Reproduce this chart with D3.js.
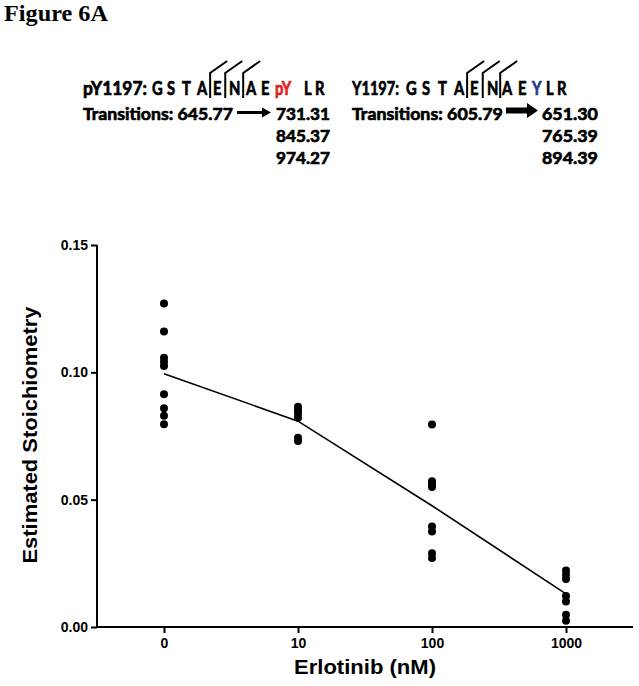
<!DOCTYPE html>
<html><head><meta charset="utf-8">
<script src="https://cdn.jsdelivr.net/npm/d3@7"></script>
<style>body{margin:0;background:#fff}svg{display:block}</style>
</head><body>
<svg id="c" width="639" height="686"></svg>
<script>
// ---- data ----
const categories = ["0", "10", "100", "1000"];
const values0    = [0.127, 0.116, 0.1057, 0.1042, 0.1025, 0.0914, 0.0859, 0.0830, 0.0796];
const values10   = [0.0865, 0.0852, 0.0838, 0.0822, 0.0743, 0.0730];
const values100  = [0.0795, 0.0572, 0.0562, 0.0550, 0.0395, 0.0375, 0.0290, 0.0271];
const values1000 = [0.0222, 0.0205, 0.0188, 0.0122, 0.0100, 0.0048, 0.0025];
const yTicks = [0, 0.05, 0.10, 0.15];
const yTickLabels = ["0.00", "0.05", "0.10", "0.15"];
const xLabel = "Erlotinib (nM)";
const yLabel = "Estimated Stoichiometry";
const title = "Figure 6A";
const pep1Seq = ["G","S","T","A","E","N","A","E","pY","L","R"];
const pep2Seq = ["G","S","T","A","E","N","A","E","Y","L","R"];
const pep1Trans = ["731.31", "845.37", "974.27"];
const pep2Trans = ["651.30", "765.39", "894.39"];

const svg = d3.select("#c");
const groups = [values0, values10, values100, values1000];

// ---- title ----
svg.append("text").attr("x", 4).attr("y", 21)
  .attr("font-family", "Liberation Serif, Times New Roman, serif")
  .style("font-weight", "bold").style("font-size", "24px")
  .attr("textLength", 104).attr("lengthAdjust", "spacingAndGlyphs").text(title);

// ---- peptide annotations ----
const pf = "Lato, 'Open Sans', sans-serif";
function heavy(sel, size, color) {
  return sel.attr("font-family", pf).style("font-weight", "bold").style("font-size", size + "px")
    .attr("fill", color || "#000").attr("stroke", color || "#000").attr("stroke-width", 0.7)
    .attr("stroke-linejoin", "round");
}
// text squeezed horizontally to a target width via a transform
function fitted(g, txt, x0, y0, size, width) {
  const t = heavy(g.append("text").attr("x", 0).attr("y", 0), size).text(txt);
  const w = t.node().getComputedTextLength();
  t.attr("transform", `translate(${x0},${y0}) scale(${width / w},1)`);
  return t;
}
function peptide(cfg) {
  const g = svg.append("g");
  fitted(g, cfg.label, cfg.x0, 95, 18, cfg.labelW);
  const widths = [];
  cfg.seq.forEach((d, i) => {
    const t = heavy(g.append("text").attr("x", 0).attr("y", 0), 18, i === 8 ? cfg.color : "#000").text(d);
    const w = t.node().getComputedTextLength();
    t.attr("transform", `translate(${cfg.lx[i]},95) scale(0.82,1)`);
    widths.push(w * 0.82);
  });
  [3, 4, 5].forEach(i => {
    const bx = (cfg.lx[i] + widths[i] + cfg.lx[i + 1]) / 2;
    g.append("path").attr("d", `M${bx},98 L${bx},73 L${bx + 17},61`)
      .attr("fill", "none").attr("stroke", "#000").attr("stroke-width", 2);
  });
  fitted(g, cfg.trans, cfg.x0, 120, 17.5, cfg.transW);
  cfg.nums.forEach((d, i) => fitted(g, d, cfg.nx, 120 + i * 22, 17.5, cfg.nW));
  const a = cfg.arrow;
  g.append("path").attr("d",
    `M${a.x1},${a.y - a.t / 2} L${a.xh},${a.y - a.t / 2} L${a.xh},${a.y - a.h} L${a.x2},${a.y} L${a.xh},${a.y + a.h} L${a.xh},${a.y + a.t / 2} L${a.x1},${a.y + a.t / 2} Z`)
    .attr("fill", "#000");
}
peptide({x0: 83, label: "pY1197:", labelW: 64, seq: pep1Seq,
  lx: [152, 167, 182, 197, 213, 229, 246, 261, 275, 304, 315], color: "#e3201c",
  trans: "Transitions: 645.77", transW: 150, nums: pep1Trans, nx: 276, nW: 54,
  arrow: {x1: 237, xh: 262, x2: 271, y: 112.5, t: 3, h: 5}});
peptide({x0: 352, label: "Y1197:", labelW: 47, seq: pep2Seq,
  lx: [406, 422, 438, 454, 470, 487, 502, 518, 532, 546, 557], color: "#1f3c88",
  trans: "Transitions: 605.79", transW: 151, nums: pep2Trans, nx: 542, nW: 56,
  arrow: {x1: 506, xh: 527, x2: 538, y: 110.5, t: 6, h: 7.5}});

// ---- chart ----
const x = d3.scalePoint().domain(categories).range([97, 633]).padding(0.5);
const y = d3.scaleLinear().domain([0, 0.15]).range([627, 245]);
const af = "Liberation Sans, Arial, Helvetica, sans-serif";

const yAxis = svg.append("g").attr("transform", "translate(97,0)")
  .call(d3.axisLeft(y).tickValues(yTicks).tickFormat((d, i) => yTickLabels[i]).tickSize(6).tickPadding(3));
const xAxis = svg.append("g").attr("transform", "translate(0,627)")
  .call(d3.axisBottom(x).tickSize(6).tickPadding(5));
[yAxis, xAxis].forEach(ax => {
  ax.attr("font-family", af).attr("font-size", 14).attr("font-weight", "bold");
  ax.select(".domain").attr("stroke", "#000").attr("stroke-width", 2);
  ax.selectAll(".tick line").attr("stroke", "#000").attr("stroke-width", 2);
  ax.selectAll(".tick text").attr("fill", "#000");
});
xAxis.select(".domain").attr("d", "M97,0H633");
yAxis.select(".domain").attr("d", "M0,245V627");

// mean line
const means = categories.map((c, i) => ({c, m: d3.mean(groups[i])}));
svg.append("path").datum(means)
  .attr("d", d3.line().x(d => x(d.c)).y(d => y(d.m)))
  .attr("fill", "none").attr("stroke", "#000").attr("stroke-width", 1.6);

// dots
const pts = categories.flatMap((c, i) => groups[i].map(v => ({c, v})));
svg.append("g").selectAll("circle").data(pts).join("circle")
  .attr("cx", d => x(d.c)).attr("cy", d => y(d.v)).attr("r", 4).attr("fill", "#000");

// axis labels
svg.append("text").attr("x", 365).attr("y", 674).attr("text-anchor", "middle")
  .attr("font-family", af).style("font-weight", "bold").style("font-size", "20px")
  .attr("textLength", 142).attr("lengthAdjust", "spacingAndGlyphs").text(xLabel);
svg.append("text").attr("transform", "translate(37,435) rotate(-90)").attr("text-anchor", "middle")
  .attr("font-family", af).style("font-weight", "bold").style("font-size", "20px")
  .attr("textLength", 257).attr("lengthAdjust", "spacingAndGlyphs").text(yLabel);
</script>
</body></html>
